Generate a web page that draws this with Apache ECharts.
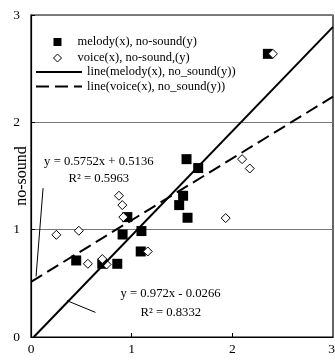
<!DOCTYPE html>
<html><head><meta charset="utf-8">
<script src="https://cdn.jsdelivr.net/npm/echarts@6/dist/echarts.min.js"></script>
<style>html,body{margin:0;padding:0;background:#fff;overflow:hidden}#c{width:335px;height:360px}</style>
</head><body><div id="c"></div>
<script>
// ---- data ----
const melodyX = [2.353, 1.545, 1.661, 1.511, 1.472, 1.555, 0.957, 0.910, 1.097, 1.090, 0.449, 0.708, 0.857];
const melodyY = [2.638, 1.657, 1.574, 1.316, 1.229, 1.111, 1.117, 0.955, 0.987, 0.797, 0.713, 0.682, 0.682];
const voiceX = [2.403, 2.097, 2.173, 0.874, 0.907, 0.917, 1.934, 0.475, 1.160, 0.565, 0.708, 0.751, 0.252];
const voiceY = [2.638, 1.657, 1.570, 1.316, 1.229, 1.117, 1.108, 0.990, 0.797, 0.682, 0.726, 0.676, 0.952];
// trendline endpoints (from the printed equations)
const melodyLineX = [0.0274, 3];
const melodyLineY = [0, 2.8894];
const voiceLineX = [0, 3];
const voiceLineY = [0.5136, 2.2392];
const xTicks = [0, 1, 2, 3];
const yTicks = [0, 1, 2, 3];
const seriesNames = ['melody(x), no-sound(y)', 'voice(x), no-sound,(y)', 'line(melody(x), no_sound(y))', 'line(voice(x), no_sound(y))'];
const eqVoice = ['y = 0.5752x + 0.5136', 'R\u00B2 = 0.5963'];
const eqMelody = ['y = 0.972x - 0.0266', 'R\u00B2 = 0.8332'];

const zip = (a, b) => a.map((v, i) => [v, b[i]]);
const FONT = '"Liberation Serif", "Times New Roman", serif';
const chart = echarts.init(document.getElementById('c'), null, {renderer: 'canvas'});
const sq = 'path://M0,0M14,14M3,3L11,3L11,11L3,11Z';
const dia = 'path://M0,0M14,14M7,3L11,7L7,11L3,7Z';
const legendText = {color: '#000', fontFamily: FONT, fontSize: 12.5};
const xMax = xTicks[xTicks.length - 1];

chart.setOption({
  animation: false,
  backgroundColor: '#fff',
  grid: {left: 31, right: 2, top: 15, bottom: 23, containLabel: false, outerBoundsMode: 'none',
    show: true, borderColor: '#000', borderWidth: 1.2, backgroundColor: 'transparent'},
  xAxis: {
    type: 'value', min: xTicks[0], max: xMax, interval: 1,
    axisLine: {lineStyle: {color: '#000', width: 1.2}},
    axisTick: {show: true, inside: true, length: 4, lineStyle: {color: '#000'}},
    axisLabel: {color: '#000', fontFamily: FONT, fontSize: 13.5, margin: 5, showMaxLabel: false, showMinLabel: true},
    splitLine: {show: false}
  },
  yAxis: {
    type: 'value', min: yTicks[0], max: yTicks[yTicks.length - 1], interval: 1,
    name: 'no-sound', nameLocation: 'middle', nameGap: 1, nameMoveOverlap: false,
    nameTextStyle: {color: '#000', fontFamily: FONT, fontSize: 16},
    axisLine: {show: true, lineStyle: {color: '#000', width: 1.2}},
    axisTick: {show: true, inside: true, length: 4, lineStyle: {color: '#000'}},
    axisLabel: {color: '#000', fontFamily: FONT, fontSize: 13.5, margin: 11, showMaxLabel: true, showMinLabel: true},
    splitLine: {show: true, lineStyle: {color: '#777', width: 1}}
  },
  legend: [{
    orient: 'vertical', left: 45, top: 30, itemWidth: 30, itemHeight: 14, itemGap: 1.5,
    symbolKeepAspect: true, textStyle: legendText,
    data: [
      {name: seriesNames[0], icon: sq, itemStyle: {color: '#000', borderWidth: 0}},
      {name: seriesNames[1], icon: dia, itemStyle: {color: '#fff', borderColor: '#000', borderWidth: 1}}
    ]
  }, {
    orient: 'vertical', left: 30, top: 60.5, itemWidth: 46, itemHeight: 14, itemGap: 1.5,
    textStyle: legendText,
    data: [
      {name: seriesNames[2], itemStyle: {opacity: 0}},
      {name: seriesNames[3], itemStyle: {opacity: 0}}
    ]
  }],
  series: [
    {name: seriesNames[0], type: 'scatter', data: zip(melodyX, melodyY), symbol: 'rect', symbolSize: 10,
      itemStyle: {color: '#000', opacity: 1}, z: 2},
    {name: seriesNames[1], type: 'scatter', data: zip(voiceX, voiceY), symbol: 'diamond', symbolSize: 9,
      itemStyle: {color: '#fff', borderColor: '#000', borderWidth: 1, opacity: 1}, z: 3},
    {name: seriesNames[2], type: 'line', data: zip(melodyLineX, melodyLineY), showSymbol: false, symbol: 'none',
      itemStyle: {color: '#000'},
      lineStyle: {color: '#000', width: 2, type: 'solid'}, clip: true, z: 4},
    {name: seriesNames[3], type: 'line', data: zip(voiceLineX, voiceLineY), showSymbol: false, symbol: 'none',
      itemStyle: {color: '#000'},
      lineStyle: {color: '#000', width: 2, type: [13, 6]}, clip: true, z: 4}
  ]
});

// annotations anchored in data coordinates
function px(p) { return chart.convertToPixel({gridIndex: 0}, p); }
const a1 = px([0.674, 1.635]), a2 = px([0.674, 1.474]);
const l1a = px([0.12, 1.387]), l1b = px([0.05, 0.564]);
const b1 = px([1.386, 0.403]), b2 = px([1.389, 0.229]);
const l2a = px([0.359, 0.338]), l2b = px([0.641, 0.229]);
const xMaxPos = px([xMax, 0]);
const txt = (p, s, size, align) => ({type: 'text', x: p[0], y: p[1], z: 10,
  style: {text: s, fill: '#000', font: (size || 12.7) + 'px ' + FONT, align: align || 'center', verticalAlign: 'middle', backgroundColor: 'transparent'}});
const ln = (a, b) => ({type: 'line', z: 10, shape: {x1: a[0], y1: a[1], x2: b[0], y2: b[1]}, style: {stroke: '#000', lineWidth: 1}});
chart.setOption({graphic: [
  txt(a1, eqVoice[0]), txt(a2, eqVoice[1]), ln(l1a, l1b),
  txt(b1, eqMelody[0]), txt(b2, eqMelody[1]), ln(l2a, l2b),
  // last x tick label (sits on the chart's right edge, as in the reference)
  txt([xMaxPos[0] + 2, xMaxPos[1] + 12], String(xMax), 13.5, 'right')
]});
</script></body></html>
